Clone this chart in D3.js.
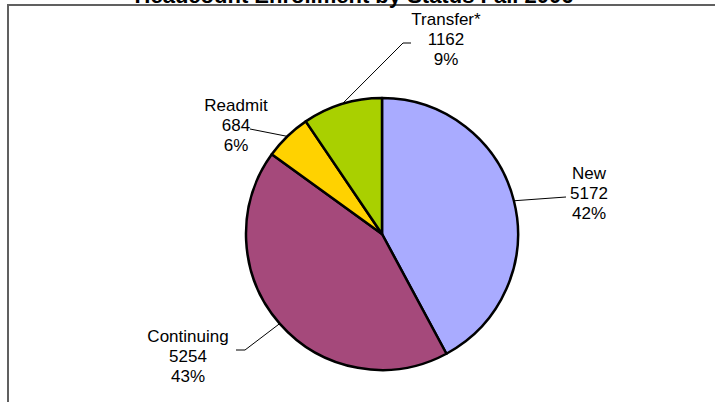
<!DOCTYPE html>
<html>
<head>
<meta charset="utf-8">
<script src="https://cdnjs.cloudflare.com/ajax/libs/d3/7.8.5/d3.min.js"></script>
<style>
  body{margin:0;background:#fff;}
  svg{display:block;}
</style>
</head>
<body>
<div id="chart"></div>
<script>
var svgW=715,svgH=402;
var cx=382,cy=234,radius=136;

// data
var categories=["New","Continuing","Readmit","Transfer*"];
var headcounts=[5172,5254,684,1162];
var percentLabels=["42%","43%","6%","9%"];
var sliceColors=["#a9abff","#a5497b","#ffd200","#a9d000"];
var chartTitle="Headcount Enrollment by Status Fall 2006";

// label layout: centre x, middle-line y, leader end, optional elbow x
var labelPos=[
    {x:589,y:193,ex:566,ey:197,elbow:null},
    {x:188,y:356,ex:236,ey:350,elbow:245},
    {x:236,y:125,ex:250,ey:129,elbow:null},
    {x:446,y:39,ex:411,ey:43,elbow:403}
];
var lineGap=20,fontSize=17;

var svg=d3.select("#chart").append("svg")
    .attr("width",svgW)
    .attr("height",svgH);

// frame
svg.append("rect")
    .attr("x",8).attr("y",5)
    .attr("width",svgW+20).attr("height",svgH+20)
    .attr("fill","none")
    .attr("stroke","#606060")
    .attr("stroke-width",2);

svg.append("text")
    .attr("x",354).attr("y",3)
    .attr("text-anchor","middle")
    .style("font-family","Arial, 'Liberation Sans', sans-serif")
    .style("font-weight","bold")
    .style("font-size","22px")
    .text(chartTitle);

var pie=d3.pie().sort(null).value(function(d){return d;});
var arcs=pie(headcounts);
var arc=d3.arc().innerRadius(0).outerRadius(radius);

var pieg=svg.append("g").attr("transform","translate("+cx+","+cy+")");

pieg.selectAll("path")
    .data(arcs)
    .enter()
    .append("path")
    .attr("d",arc)
    .attr("fill",function(d,i){return sliceColors[i];})
    .attr("stroke","#000")
    .attr("stroke-width",2.5)
    .attr("stroke-linejoin","round");

// leader lines
svg.selectAll("polyline.leader")
    .data(arcs)
    .enter()
    .append("polyline")
    .attr("class","leader")
    .attr("fill","none")
    .attr("stroke","#000")
    .attr("stroke-width",1)
    .attr("points",function(d,i){
        var a=(d.startAngle+d.endAngle)/2;
        var sx=cx+Math.sin(a)*radius, sy=cy-Math.cos(a)*radius;
        var p=labelPos[i];
        var pts=[[sx,sy]];
        if(p.elbow!=null) pts.push([p.elbow,p.ey]);
        pts.push([p.ex,p.ey]);
        return pts.map(function(q){return q.join(",");}).join(" ");
    });

// labels
var labelg=svg.selectAll("text.lab")
    .data(arcs)
    .enter()
    .append("text")
    .attr("class","lab")
    .attr("text-anchor","middle")
    .style("font-family","Arial, 'Liberation Sans', sans-serif")
    .style("font-size",fontSize+"px");

labelg.each(function(d,i){
    var t=d3.select(this);
    var p=labelPos[i];
    var lines=[categories[i],headcounts[i],percentLabels[i]];
    for(var k=0;k<3;k++){
        t.append("tspan")
            .attr("x",p.x)
            .attr("y",p.y+(k-1)*lineGap+6)
            .text(lines[k]);
    }
});
</script>
</body>
</html>
